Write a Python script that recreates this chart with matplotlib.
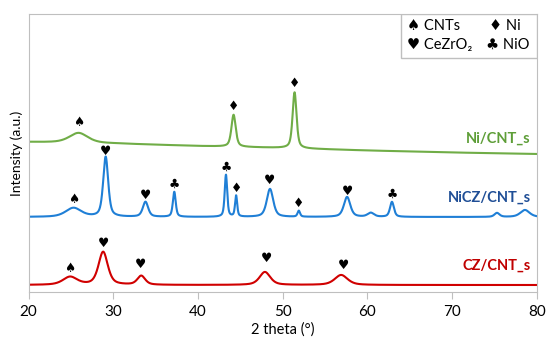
import numpy as np
import matplotlib.pyplot as plt
from matplotlib.patches import Rectangle

plt.rcParams['font.family'] = ['Lato', 'DejaVu Sans']

# peak lists: position (2 theta), height, FWHM
ni_pos = [25.9, 44.2, 51.4]
ni_h = [10, 32, 56]
ni_w = [2.6, 0.6, 0.55]
ni_base_x = [20, 30, 40, 50, 60, 70, 80]
ni_base_y = [150, 148.5, 146, 144, 141.5, 139.5, 138]

nicz_pos = [25.3, 29.1, 33.8, 37.2, 43.3, 44.5, 48.5, 51.9, 57.6, 60.4, 62.9, 75.3, 78.6]
nicz_h = [9, 60, 15, 25, 42, 21, 28, 6, 20, 4, 15, 4, 7]
nicz_w = [2.2, 0.7, 0.75, 0.4, 0.35, 0.3, 0.9, 0.35, 0.9, 0.9, 0.55, 0.7, 1.3]
nicz_base = 75

cz_pos = [24.9, 28.8, 33.3, 47.9, 56.9]
cz_h = [8, 33, 9, 13, 10]
cz_w = [2.0, 1.3, 1.1, 1.5, 1.8]
cz_base = 7

# phase markers: (2 theta, height, symbol)
ni_marks = [(25.9, 170, '♠'), (44.2, 186, '♦'), (51.4, 209, '♦')]
nicz_marks = [(25.3, 93, '♠'), (29.1, 141, '♥'), (33.8, 97, '♥'), (37.2, 108, '♣'),
              (43.3, 125, '♣'), (44.6, 104, '♦'), (48.5, 112, '♥'), (51.9, 89, '♦'),
              (57.6, 101, '♥'), (62.9, 98, '♣')]
cz_marks = [(24.8, 24, '♠'), (28.8, 49, '♥'), (33.2, 28, '♥'), (48.1, 34, '♥'), (57.2, 27, '♥')]


def profile(x, pos, h, w, eta=0.55):
    y = np.zeros_like(x)
    for p, a, f in zip(pos, h, w):
        g = np.exp(-4 * np.log(2) * ((x - p) / f) ** 2)
        l = 1 / (1 + 4 * ((x - p) / f) ** 2)
        y += a * (eta * l + (1 - eta) * g)
    return y


x = np.linspace(20, 80, 3000)
y_ni = np.interp(x, ni_base_x, ni_base_y) + profile(x, ni_pos, ni_h, ni_w)
y_nicz = nicz_base + profile(x, nicz_pos, nicz_h, nicz_w)
y_cz = cz_base + profile(x, cz_pos, cz_h, cz_w)

fig = plt.figure(figsize=(5.5, 3.45), dpi=100)
ax = fig.add_axes([0.052, 0.1536, 0.924, 0.806])

ax.plot(x, y_ni, color='#70ad47', lw=1.5)
ax.plot(x, y_nicz, color='#1f7fd6', lw=1.5)
ax.plot(x, y_cz, color='#d00000', lw=1.5)

for marks in (ni_marks, nicz_marks, cz_marks):
    for mx, my, s in marks:
        ax.text(mx, my, s, ha='center', va='center', fontsize=9, color='black')

ax.text(79.3, 153, 'Ni/CNT_s', ha='right', va='center', fontsize=10.5,
        fontweight='bold', color='#5e9e38')
ax.text(79.3, 94, 'NiCZ/CNT_s', ha='right', va='center', fontsize=10.5,
        fontweight='bold', color='#1f4e96')
ax.text(79.3, 26, 'CZ/CNT_s', ha='right', va='center', fontsize=10.5,
        fontweight='bold', color='#c00000')

# legend box
ax.add_patch(Rectangle((0.732, 0.842), 0.268, 0.158, transform=ax.transAxes,
                       facecolor='white', edgecolor='#bfbfbf', lw=1.0, zorder=5))
ax.text(0.745, 0.955, '♠ CNTs', transform=ax.transAxes, ha='left', va='center',
        fontsize=10.5, zorder=6)
ax.text(0.745, 0.89, '♥ CeZrO₂', transform=ax.transAxes, ha='left', va='center',
        fontsize=10.5, zorder=6)
ax.text(0.905, 0.955, '♦ Ni', transform=ax.transAxes, ha='left', va='center',
        fontsize=10.5, zorder=6)
ax.text(0.9, 0.89, '♣ NiO', transform=ax.transAxes, ha='left', va='center',
        fontsize=10.5, zorder=6)

ax.set_xlim(20, 80)
ax.set_ylim(0, 278)
ax.set_xticks(range(20, 81, 10))
ax.set_yticks([])
ax.tick_params(axis='x', direction='out', length=5, color='#bfbfbf', labelsize=11, pad=4)
for sp in ax.spines.values():
    sp.set_color('#bfbfbf')
    sp.set_linewidth(0.8)
ax.set_xlabel('2 theta (°)', fontsize=10.5, labelpad=3)
ax.set_ylabel('Intensity (a.u.)', fontsize=10, labelpad=4)

fig.savefig('out.png', dpi=100)
